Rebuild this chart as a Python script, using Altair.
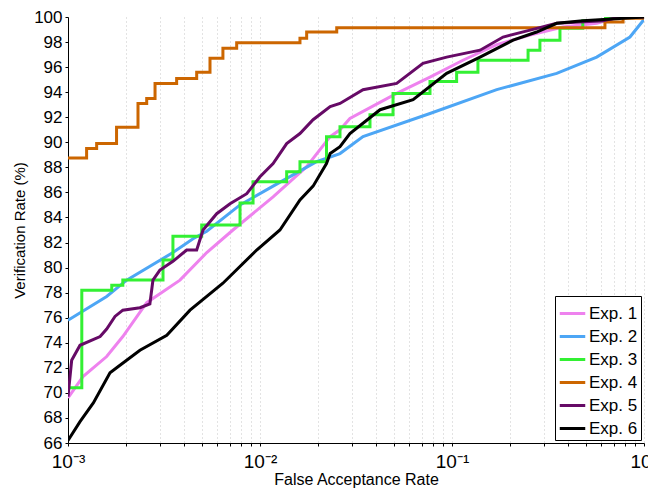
import altair as alt
import pandas as pd

series = ["Exp. 1", "Exp. 2", "Exp. 3", "Exp. 4", "Exp. 5", "Exp. 6"]
colors = ["#EE82EE", "#4DA6F5", "#33F033", "#CC6600", "#660A66", "#000000"]
step_series = ["Exp. 3", "Exp. 4"]

e1_far = [1e-3, 1.197e-3, 1.59e-3, 1.93e-3, 2.57e-3, 3.83e-3, 5.28e-3, 7.23e-3, 1.17e-2, 1.75e-2,
          2.32e-2, 2.61e-2, 2.94e-2, 5.15e-2, 7.68e-2, 0.114, 0.171, 0.255, 0.378, 0.567, 0.75, 1.0]
e1_vr = [69.6, 71.3, 72.9, 74.5, 77.2, 79.0, 81.2, 83.0, 85.65, 88.05,
         90.45, 91.0, 91.9, 93.9, 95.2, 96.55, 97.8, 98.55, 99.2, 99.5, 100, 100]

e2_far = [1e-3, 1.59e-3, 2.02e-3, 3.52e-3, 4.48e-3, 5.28e-3, 7.87e-3, 1.17e-2, 1.97e-2, 2.61e-2,
          3.44e-2, 7.68e-2, 0.171, 0.351, 0.567, 0.845, 1.0]
e2_vr = [75.8, 77.7, 79.0, 81.2, 82.3, 82.9, 85.0, 86.5, 88.45, 89.1,
         90.45, 92.3, 94.2, 95.5, 96.8, 98.4, 99.8]

e3_far = [1e-3, 1.18e-3, 1.69e-3, 1.93e-3, 3.125e-3, 3.52e-3, 4.97e-3, 7.87e-3, 9.2e-3, 1.377e-2,
          1.615e-2, 2.22e-2, 2.61e-2, 3.74e-2, 4.93e-2, 7.68e-2, 0.1057, 0.1365, 0.249, 0.287,
          0.365, 0.48, 0.63, 1.0]
e3_vr = [70.4, 78.2, 78.6, 79.0, 80.6, 82.5, 83.4, 85.15, 86.85, 87.65,
         88.45, 90.45, 91.25, 92.2, 93.9, 94.85, 95.6, 96.55, 97.35, 98.15,
         99.1, 99.7, 100, 100]

e4_far = [1e-3, 1.25e-3, 1.41e-3, 1.79e-3, 2.315e-3, 2.57e-3, 2.84e-3, 3.68e-3, 4.68e-3, 5.49e-3,
          6.41e-3, 7.56e-3, 1.615e-2, 1.75e-2, 2.51e-2, 0.626, 0.778, 1.0]
e4_vr = [88.75, 89.5, 89.9, 91.2, 93.1, 93.5, 94.7, 95.1, 95.6, 96.7,
         97.5, 97.95, 98.3, 98.8, 99.15, 99.6, 99.9, 99.9]

e5_far = [1e-3, 1.045e-3, 1.155e-3, 1.47e-3, 1.59e-3, 1.757e-3, 1.93e-3, 2.37e-3, 2.67e-3, 2.77e-3,
          3.01e-3, 3.52e-3, 4.15e-3, 4.68e-3, 5.05e-3, 5.95e-3, 6.98e-3, 8.53e-3, 1.0e-2, 1.17e-2,
          1.377e-2, 1.615e-2, 1.89e-2, 2.32e-2, 2.61e-2, 3.44e-2, 5.15e-2, 7.06e-2, 9.38e-2, 0.14,
          0.1845, 0.255, 0.351, 0.464, 0.611, 0.75, 1.0]
e5_vr = [69.7, 72.6, 73.8, 74.5, 75.1, 76.1, 76.6, 76.8, 77.1, 79.0,
         79.8, 80.5, 81.4, 81.4, 83.0, 84.3, 85.1, 85.9, 87.25, 88.3,
         89.9, 90.7, 91.8, 92.85, 93.1, 94.2, 94.7, 96.3, 96.8, 97.35,
         98.4, 98.95, 99.5, 99.6, 99.7, 100, 100]

e6_far = [1e-3, 1.155e-3, 1.355e-3, 1.655e-3, 1.865e-3, 2.37e-3, 3.27e-3, 4.32e-3, 6.41e-3, 9.61e-3,
          1.27e-2, 1.615e-2, 1.89e-2, 2.22e-2, 2.32e-2, 2.61e-2, 2.94e-2, 4.22e-2, 6.27e-2, 9.38e-2,
          0.14, 0.208, 0.276, 0.351, 0.481, 1.0]
e6_vr = [66.2, 67.7, 69.2, 71.6, 72.2, 73.4, 74.6, 76.6, 78.75, 81.4,
         83.0, 85.4, 86.5, 88.3, 89.1, 89.65, 90.7, 92.6, 93.4, 95.5,
         96.8, 98.15, 98.8, 99.5, 99.7, 100]

y_ticks = list(range(66, 101, 2))
grid_vals = [m * 10.0 ** k for k in (-3, -2, -1) for m in range(1, 10)] + [1.0]

all_data = [(e1_far, e1_vr), (e2_far, e2_vr), (e3_far, e3_vr),
            (e4_far, e4_vr), (e5_far, e5_vr), (e6_far, e6_vr)]
rows = []
for name, (fars, vrs) in zip(series, all_data):
    for i, (f, v) in enumerate(zip(fars, vrs)):
        rows.append({"series": name, "far": f, "vr": v, "order": i})
df = pd.DataFrame(rows)

label_expr = ("abs(datum.value-0.001)<1e-9 ? '10⁻³' : abs(datum.value-0.01)<1e-9 ? '10⁻²' : "
              "abs(datum.value-0.1)<1e-9 ? '10⁻¹' : abs(datum.value-1)<1e-9 ? '10⁰' : ''")

x_enc = alt.X("far:Q", scale=alt.Scale(type="log", domain=[0.001, 1]),
              axis=alt.Axis(values=grid_vals, labelExpr=label_expr, grid=True,
                            gridColor="#a0a0a0", gridDash=[1, 3], gridOpacity=0.6,
                            title="False Acceptance Rate", tickSize=3,
                            labelFontSize=19, titleFontSize=16, labelPadding=6,
                            titlePadding=0, labelFlush=False, labelOverlap=False,
                            titleFontWeight="normal"))
y_enc = alt.Y("vr:Q", scale=alt.Scale(domain=[66, 100], nice=False, zero=False),
              axis=alt.Axis(values=y_ticks, grid=False, title="Verification Rate (%)",
                            labelFontSize=17, titleFontSize=15, tickSize=3,
                            labelPadding=3, titlePadding=6, titleFontWeight="normal"))
color_enc = alt.Color("series:N", scale=alt.Scale(domain=series, range=colors),
                      legend=alt.Legend(title=None, orient="bottom-right", offset=3,
                                        strokeColor="black", fillColor="white",
                                        padding=3, labelFontSize=17, symbolType="stroke",
                                        symbolStrokeWidth=3, symbolSize=650,
                                        rowPadding=0, labelOffset=2))

layers = []
for name in series:
    interp = "step-after" if name in step_series else "linear"
    layers.append(
        alt.Chart(df).transform_filter(alt.datum.series == name)
        .mark_line(strokeWidth=3, interpolate=interp, clip=True)
        .encode(x=x_enc, y=y_enc, color=color_enc, order="order:Q")
    )

chart = alt.layer(*layers).properties(
    width=576, height=426,
    autosize=alt.AutoSizeParams(type="none"),
    padding={"left": 60, "top": 9, "right": 4, "bottom": 47},
).configure_view(stroke=None).configure_axis(
    domainColor="black", tickColor="black", labelColor="black", titleColor="black",
    labelFont="Liberation Sans", titleFont="Liberation Sans"
).configure_legend(labelFont="Liberation Sans")

chart.save("out.html", embed_options={"renderer": "svg", "actions": False})
